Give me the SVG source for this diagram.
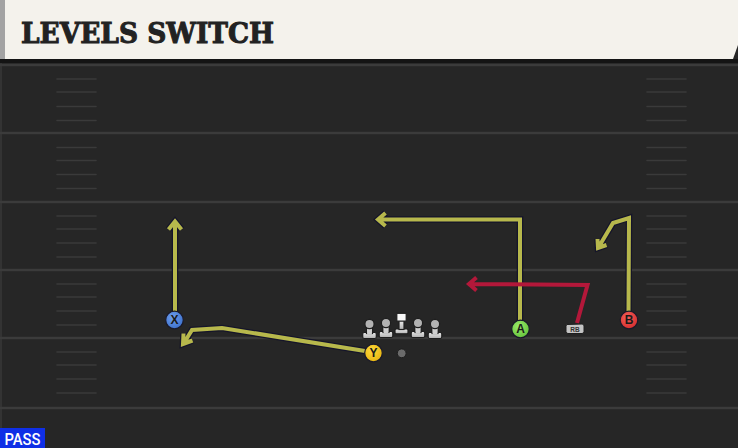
<svg xmlns="http://www.w3.org/2000/svg" width="738" height="448" viewBox="0 0 738 448">
  <defs>
    <style>
      .yard { stroke: #3b3b3b; stroke-width: 2.5; }
      .hash { stroke: #3a3a3a; stroke-width: 1.6; stroke-linecap: round; }
      .rt-o { fill: none; stroke: #15152a; stroke-width: 6.5; stroke-linejoin: miter; stroke-linecap: butt; }
      .rt-y { fill: none; stroke: #b7b84c; stroke-width: 4; stroke-linejoin: miter; stroke-linecap: butt; }
      .rt-r { fill: none; stroke: #b3183a; stroke-width: 4; stroke-linejoin: miter; stroke-linecap: butt; }
      .lbl { font-family: "Liberation Sans", Arial, sans-serif; font-weight: bold; font-size: 12px; fill: #1a1a1a; text-anchor: middle; }
      .pl { stroke: #1e1e1e; stroke-width: 1.2; }
    </style>
    <linearGradient id="gOL" x1="0" y1="0" x2="0" y2="1">
      <stop offset="0" stop-color="#ececec"/>
      <stop offset="1" stop-color="#b0b0b0"/>
    </linearGradient>
    <radialGradient id="gX" cx="0.4" cy="0.35" r="0.7">
      <stop offset="0" stop-color="#6f9fee"/><stop offset="1" stop-color="#3b6fcb"/>
    </radialGradient>
    <radialGradient id="gY" cx="0.4" cy="0.35" r="0.7">
      <stop offset="0" stop-color="#ffd83a"/><stop offset="1" stop-color="#e6b410"/>
    </radialGradient>
    <radialGradient id="gA" cx="0.4" cy="0.35" r="0.7">
      <stop offset="0" stop-color="#9bea6a"/><stop offset="1" stop-color="#62c23a"/>
    </radialGradient>
    <radialGradient id="gB" cx="0.4" cy="0.35" r="0.7">
      <stop offset="0" stop-color="#f5605a"/><stop offset="1" stop-color="#d42c2c"/>
    </radialGradient>
    <g id="ol">
      <rect x="-6.8" y="8.5" width="13.6" height="6" rx="1.5" fill="url(#gOL)" class="pl"/>
      <rect x="-3" y="1" width="6" height="8.5" fill="url(#gOL)" class="pl"/>
      <rect x="-2.4" y="2" width="4.8" height="8" fill="#cfcfcf"/>
      <circle cx="0" cy="0" r="4.6" fill="#b2b2b2" class="pl"/>
    </g>
  </defs>

  <!-- field -->
  <rect x="0" y="0" width="738" height="448" fill="#262626"/>
  <rect x="0" y="62" width="2" height="386" fill="#333"/>

  <g id="field-lines">
    <line class="yard" x1="0" y1="65" x2="738" y2="65"/>
    <line class="yard" x1="0" y1="133" x2="738" y2="133"/>
    <line class="yard" x1="0" y1="202" x2="738" y2="202"/>
    <line class="yard" x1="0" y1="270" x2="738" y2="270"/>
    <line class="yard" x1="0" y1="338" x2="738" y2="338"/>
    <line class="yard" x1="0" y1="408" x2="738" y2="408"/>
    <g class="hash">
      <line x1="57" y1="79" x2="96" y2="79"/><line x1="57" y1="92" x2="96" y2="92"/>
      <line x1="57" y1="106.5" x2="96" y2="106.5"/><line x1="57" y1="120.5" x2="96" y2="120.5"/>
      <line x1="57" y1="147.5" x2="96" y2="147.5"/><line x1="57" y1="160.5" x2="96" y2="160.5"/>
      <line x1="57" y1="174.5" x2="96" y2="174.5"/><line x1="57" y1="188.5" x2="96" y2="188.5"/>
      <line x1="57" y1="216" x2="96" y2="216"/><line x1="57" y1="229" x2="96" y2="229"/>
      <line x1="57" y1="243" x2="96" y2="243"/><line x1="57" y1="257" x2="96" y2="257"/>
      <line x1="57" y1="284" x2="96" y2="284"/><line x1="57" y1="297" x2="96" y2="297"/>
      <line x1="57" y1="311" x2="96" y2="311"/><line x1="57" y1="325" x2="96" y2="325"/>
      <line x1="57" y1="352" x2="96" y2="352"/><line x1="57" y1="365" x2="96" y2="365"/>
      <line x1="57" y1="379" x2="96" y2="379"/><line x1="57" y1="393" x2="96" y2="393"/>

      <line x1="647" y1="79" x2="686" y2="79"/><line x1="647" y1="92" x2="686" y2="92"/>
      <line x1="647" y1="106.5" x2="686" y2="106.5"/><line x1="647" y1="120.5" x2="686" y2="120.5"/>
      <line x1="647" y1="147.5" x2="686" y2="147.5"/><line x1="647" y1="160.5" x2="686" y2="160.5"/>
      <line x1="647" y1="174.5" x2="686" y2="174.5"/><line x1="647" y1="188.5" x2="686" y2="188.5"/>
      <line x1="647" y1="216" x2="686" y2="216"/><line x1="647" y1="229" x2="686" y2="229"/>
      <line x1="647" y1="243" x2="686" y2="243"/><line x1="647" y1="257" x2="686" y2="257"/>
      <line x1="647" y1="284" x2="686" y2="284"/><line x1="647" y1="297" x2="686" y2="297"/>
      <line x1="647" y1="311" x2="686" y2="311"/><line x1="647" y1="325" x2="686" y2="325"/>
      <line x1="647" y1="352" x2="686" y2="352"/><line x1="647" y1="365" x2="686" y2="365"/>
      <line x1="647" y1="379" x2="686" y2="379"/><line x1="647" y1="393" x2="686" y2="393"/>
    </g>
  </g>

  <!-- header -->
  <g id="header">
    <rect x="0" y="0" width="738" height="59" fill="#f4f2ec"/>
    <rect x="0" y="0" width="5" height="59" fill="#a3a3a3"/>
    <rect x="0" y="59" width="738" height="4" fill="#141414"/>
    <polygon points="733,59 738,45 738,59" fill="#262626"/>
    <text x="21" y="43" font-family="'DejaVu Serif', 'Liberation Serif', serif" font-weight="bold" font-size="28" fill="#222" stroke="#222" stroke-width="1" textLength="253" lengthAdjust="spacingAndGlyphs">LEVELS SWITCH</text>
  </g>

  <!-- connectors (routes) -->
  <g id="routes">
    <g id="route-x">
      <path class="rt-o" d="M175,312 L175,222 M168.5,229.5 L175,221.5 L181.5,229.5"/>
      <path class="rt-y" d="M175,312 L175,222 M168.5,229.5 L175,221.5 L181.5,229.5"/>
    </g>
    <g id="route-y">
      <path class="rt-o" d="M365,351 L222,328 L192,330 L184,343 M183.5,333.5 L183,344 L192.5,340.5"/>
      <path class="rt-y" d="M365,351 L222,328 L192,330 L184,343 M183.5,333.5 L183,344 L192.5,340.5"/>
    </g>
    <g id="route-a">
      <path class="rt-o" d="M520,320 L520,219.5 L379,219.5 M385.5,213 L378,219.5 L385.5,226"/>
      <path class="rt-y" d="M520,320 L520,219.5 L379,219.5 M385.5,213 L378,219.5 L385.5,226"/>
    </g>
    <g id="route-b">
      <path class="rt-o" d="M628.5,312 L629,218 L613,223 L599,246.5 M597.5,239 L598,248 L606.5,245"/>
      <path class="rt-y" d="M628.5,312 L629,218 L613,223 L599,246.5 M597.5,239 L598,248 L606.5,245"/>
    </g>
    <g id="route-rb">
      <path class="rt-r" d="M577,323 L587.5,285 L470,284 M476.5,277.5 L469,284 L476.5,290.5"/>
    </g>
  </g>

  <!-- players -->
  <g id="player-x">
    <circle cx="174.5" cy="320" r="8.8" fill="url(#gX)" stroke="#1a1a2a" stroke-width="1.2"/>
    <text class="lbl" x="174.5" y="324.3">X</text>
  </g>
  <g id="player-y">
    <circle cx="373.5" cy="353" r="8.8" fill="url(#gY)" stroke="#1a1a2a" stroke-width="1.2"/>
    <text class="lbl" x="373.5" y="357.3">Y</text>
  </g>
  <g id="player-a">
    <circle cx="520.5" cy="329" r="8.8" fill="url(#gA)" stroke="#1a1a2a" stroke-width="1.2"/>
    <text class="lbl" x="520.5" y="333.3">A</text>
  </g>
  <g id="player-b">
    <circle cx="629" cy="320" r="8.8" fill="url(#gB)" stroke="#1a1a2a" stroke-width="1.2"/>
    <text class="lbl" x="629" y="324.3">B</text>
  </g>
  <g id="player-rb">
    <path d="M567,324.5 L582,324 Q584,324 584,326 L584,331.5 Q584,333.5 582,333.5 L568,333.5 Q566,333.5 566,331.5 L566,326.5 Q566,324.5 567,324.5 Z" fill="#c4c4c4" stroke="#1e1e1e" stroke-width="1"/>
    <text x="575" y="331.5" font-family="'Liberation Sans', Arial, sans-serif" font-weight="bold" font-size="6.5" fill="#333" text-anchor="middle">RB</text>
  </g>

  <g id="ol-lt"><use href="#ol" x="369.5" y="324"/></g>
  <g id="ol-lg"><use href="#ol" x="386" y="323"/></g>
  <g id="ol-c">
    <rect x="395" y="329" width="13" height="4.8" rx="1.2" fill="url(#gOL)" class="pl"/>
    <rect x="399" y="320.5" width="5" height="9" fill="url(#gOL)" class="pl"/>
    <rect x="396.8" y="313.3" width="9.4" height="7.8" fill="#f8f8f8" class="pl"/>
  </g>
  <g id="ol-rg"><use href="#ol" x="418" y="323"/></g>
  <g id="ol-rt"><use href="#ol" x="435" y="324"/></g>

  <g id="qb">
    <circle cx="401.7" cy="353.3" r="4.4" fill="#6b6b6b" stroke="#1e1e1e" stroke-width="1"/>
  </g>

  <g id="pass-tag">
    <rect x="0" y="428" width="45" height="20" fill="#0f2fe6"/>
    <text x="4.5" y="445" font-family="Roboto, 'Liberation Sans', sans-serif" font-weight="500" font-size="16" fill="#ffffff" textLength="36" lengthAdjust="spacingAndGlyphs">PASS</text>
  </g>
</svg>
